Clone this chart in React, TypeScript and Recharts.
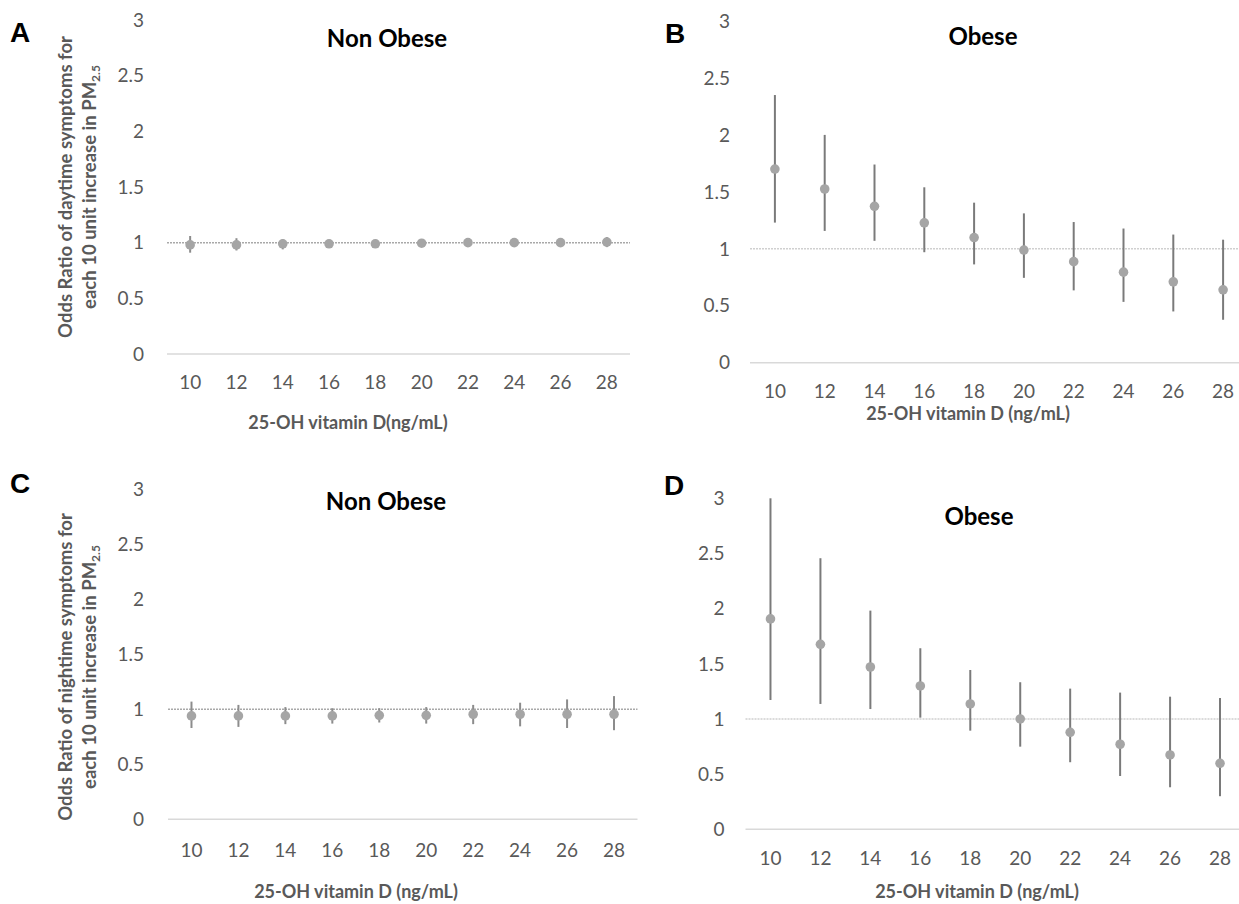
import React from 'react';
import { ComposedChart, Line, XAxis, YAxis, ErrorBar, ReferenceLine } from 'recharts';

const vitaminD = ['10', '12', '14', '16', '18', '20', '22', '24', '26', '28'];
const yTicks = [0, 0.5, 1, 1.5, 2, 2.5, 3];

// Panel A: daytime, non obese
const aOR = [0.98, 0.98, 0.99, 0.99, 0.99, 0.995, 1.0, 1.0, 1.0, 1.005];
const aLow = [0.91, 0.93, 0.94, 0.955, 0.97, 0.98, 0.98, 0.975, 0.97, 0.96];
const aHigh = [1.06, 1.04, 1.03, 1.025, 1.01, 1.01, 1.02, 1.025, 1.03, 1.05];

// Panel B: daytime, obese
const bOR = [1.7, 1.525, 1.373, 1.228, 1.099, 0.989, 0.887, 0.795, 0.71, 0.64];
const bLow = [1.23, 1.157, 1.07, 0.97, 0.863, 0.745, 0.635, 0.534, 0.45, 0.377];
const bHigh = [2.35, 2.0, 1.74, 1.54, 1.405, 1.311, 1.235, 1.178, 1.125, 1.08];

// Panel C: nighttime, non obese
const cOR = [0.94, 0.94, 0.94, 0.94, 0.945, 0.945, 0.955, 0.955, 0.955, 0.955];
const cLow = [0.83, 0.84, 0.865, 0.87, 0.88, 0.87, 0.865, 0.845, 0.83, 0.81];
const cHigh = [1.07, 1.04, 1.02, 1.01, 1.01, 1.02, 1.04, 1.06, 1.09, 1.12];

// Panel D: nighttime, obese
const dOR = [1.907, 1.677, 1.471, 1.299, 1.136, 1.0, 0.879, 0.771, 0.674, 0.598];
const dLow = [1.172, 1.136, 1.09, 1.012, 0.894, 0.749, 0.608, 0.483, 0.381, 0.3];
const dHigh = [3.0, 2.457, 1.982, 1.641, 1.444, 1.333, 1.275, 1.239, 1.202, 1.19];

const buildRows = (or: number[], lo: number[], hi: number[]) =>
  vitaminD.map((v, i) => ({ vd: v, or: or[i], err: [or[i] - lo[i], hi[i] - or[i]] }));

const TICK_FONT = { fill: '#595959', fontSize: 19, fontFamily: 'Lato, "Open Sans", sans-serif' };

type PanelProps = {
  left: number; top: number; width: number; height: number;
  margin: { top: number; right: number; bottom: number; left: number };
  yGap: number; xGap: number;
  rows: any[]; refColor: string; errColor: string;
};

function Panel(p: PanelProps) {
  return (
    <div style={{ position: 'absolute', left: p.left, top: p.top }}>
      <ComposedChart width={p.width} height={p.height} data={p.rows} margin={p.margin}>
        <XAxis
          dataKey="vd"
          type="category"
          scale="band"
          interval={0}
          height={30}
          axisLine={{ stroke: '#d9d9d9', strokeWidth: 1.5 }}
          tickLine={false}
          tickSize={0}
          tickMargin={p.xGap}
          tick={TICK_FONT}
        />
        <YAxis
          type="number"
          domain={[0, 3]}
          ticks={yTicks}
          interval={0}
          width={60}
          axisLine={false}
          tickLine={false}
          tickSize={0}
          tickMargin={p.yGap}
          tick={TICK_FONT}
        />
        <ReferenceLine y={1} stroke={p.refColor} strokeWidth={1.5} strokeDasharray="2 1" />
        <Line
          dataKey="or"
          stroke="none"
          legendType="none"
          isAnimationActive={false}
          activeDot={false}
          dot={{ r: 4.8, fill: '#a5a5a5', stroke: 'none', strokeWidth: 0 }}
        >
          <ErrorBar dataKey="err" direction="y" width={0} stroke={p.errColor} strokeWidth={2} isAnimationActive={false} />
        </Line>
      </ComposedChart>
    </div>
  );
}

const LABEL_FONT = 'Lato, "Open Sans", sans-serif';
const LETTER_FONT = '"Liberation Sans", Arial, sans-serif';

export default function App() {
  return (
    <div style={{ position: 'absolute', left: 0, top: 0, width: 1239, height: 904, overflow: 'hidden', background: '#fff' }}>
      <Panel left={0} top={0} width={640} height={450}
        margin={{ top: 20, right: 10, bottom: 66, left: 107 }} yGap={23} xGap={22}
        rows={buildRows(aOR, aLow, aHigh)} refColor="#a9a9a9" errColor="#8c8c8c" />
      <Panel left={620} top={0} width={629} height={450}
        margin={{ top: 21, right: 1, bottom: 57.3, left: 70 }} yGap={20} xGap={22}
        rows={buildRows(bOR, bLow, bHigh)} refColor="#d0d0d0" errColor="#7a7a7a" />
      <Panel left={0} top={450} width={650} height={454}
        margin={{ top: 39.3, right: 12.5, bottom: 54.7, left: 108 }} yGap={24} xGap={24}
        rows={buildRows(cOR, cLow, cHigh)} refColor="#a9a9a9" errColor="#8c8c8c" />
      <Panel left={620} top={450} width={629} height={454}
        margin={{ top: 48.3, right: 4, bottom: 44.7, left: 65.5 }} yGap={21} xGap={22}
        rows={buildRows(dOR, dLow, dHigh)} refColor="#d0d0d0" errColor="#7a7a7a" />

      <svg width={1239} height={904} style={{ position: 'absolute', left: 0, top: 0, pointerEvents: 'none' }}>
        {/* panel letters */}
        <text x={10} y={42} fontFamily={LETTER_FONT} fontWeight="bold" fontSize={28} fill="#000">A</text>
        <text x={665} y={43} fontFamily={LETTER_FONT} fontWeight="bold" fontSize={28} fill="#000">B</text>
        <text x={10} y={493} fontFamily={LETTER_FONT} fontWeight="bold" fontSize={28} fill="#000">C</text>
        <text x={664} y={495} fontFamily={LETTER_FONT} fontWeight="bold" fontSize={28} fill="#000">D</text>

        {/* panel titles */}
        <text x={387} y={47} textAnchor="middle" fontFamily={LABEL_FONT} fontWeight="bold" fontSize={24} fill="#000">Non Obese</text>
        <text x={983} y={45} textAnchor="middle" fontFamily={LABEL_FONT} fontWeight="bold" fontSize={24} fill="#000">Obese</text>
        <text x={386} y={510} textAnchor="middle" fontFamily={LABEL_FONT} fontWeight="bold" fontSize={24} fill="#000">Non Obese</text>
        <text x={979} y={525} textAnchor="middle" fontFamily={LABEL_FONT} fontWeight="bold" fontSize={24} fill="#000">Obese</text>

        {/* x-axis titles */}
        <text x={348} y={429} textAnchor="middle" fontFamily={LABEL_FONT} fontWeight="bold" fontSize={18} fill="#595959">25-OH vitamin D(ng/mL)</text>
        <text x={968} y={420} textAnchor="middle" fontFamily={LABEL_FONT} fontWeight="bold" fontSize={18} fill="#595959">25-OH vitamin D (ng/mL)</text>
        <text x={356} y={898} textAnchor="middle" fontFamily={LABEL_FONT} fontWeight="bold" fontSize={18} fill="#595959">25-OH vitamin D (ng/mL)</text>
        <text x={977} y={898} textAnchor="middle" fontFamily={LABEL_FONT} fontWeight="bold" fontSize={18} fill="#595959">25-OH vitamin D (ng/mL)</text>

        {/* y-axis titles */}
        <g transform="translate(72,187) rotate(-90)">
          <text x={0} y={0} textAnchor="middle" fontFamily={LABEL_FONT} fontWeight="bold" fontSize={18.5} fill="#595959">Odds Ratio of daytime symptoms for</text>
        </g>
        <g transform="translate(96,187) rotate(-90)">
          <text x={0} y={0} textAnchor="middle" fontFamily={LABEL_FONT} fontWeight="bold" fontSize={18.5} fill="#595959">
            each  10 unit increase in PM<tspan fontSize={12} dy={4}>2.5</tspan>
          </text>
        </g>
        <g transform="translate(72,667) rotate(-90)">
          <text x={0} y={0} textAnchor="middle" fontFamily={LABEL_FONT} fontWeight="bold" fontSize={18.5} fill="#595959">Odds Ratio of nightime symptoms for</text>
        </g>
        <g transform="translate(96,667) rotate(-90)">
          <text x={0} y={0} textAnchor="middle" fontFamily={LABEL_FONT} fontWeight="bold" fontSize={18.5} fill="#595959">
            each  10 unit increase in PM<tspan fontSize={12} dy={4}>2.5</tspan>
          </text>
        </g>
      </svg>
    </div>
  );
}
